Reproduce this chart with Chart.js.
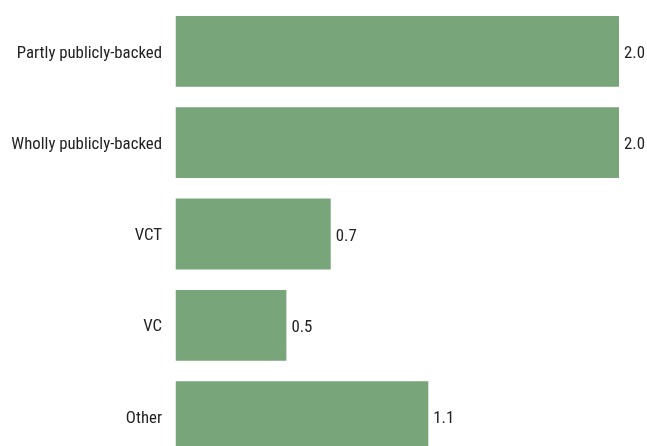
<!DOCTYPE html>
<html>
<head>
<meta charset="utf-8">
<script src="https://cdn.jsdelivr.net/npm/chart.js@4"></script>
<style>
  html, body { margin: 0; padding: 0; background: #fff; overflow: hidden; }
  #wrap { width: 647px; height: 446px; overflow: hidden; }
  canvas { display: block; }
</style>
</head>
<body>
<div id="wrap"><canvas id="chart" width="647" height="470"></canvas></div>
<script>
// Funding source categories and their values
const categories = ['Partly publicly-backed', 'Wholly publicly-backed', 'VCT', 'VC', 'Other'];
const values = [2.0, 2.0, 0.7, 0.5, 1.14];
const axisMin = 0;
const axisMax = 2.0;

const FONT = '"Liberation Sans Narrow", "Roboto Condensed", "Arial Narrow", "Liberation Sans", sans-serif';
const FONT_SIZE = 16.8;
const TEXT_COLOR = '#222222';
const BAR_COLOR = '#78a57a';

// Writes each bar's value just past its end
const valueLabels = {
  id: 'valueLabels',
  afterDatasetsDraw(chart) {
    const ctx = chart.ctx;
    const meta = chart.getDatasetMeta(0);
    ctx.save();
    ctx.font = FONT_SIZE + 'px ' + FONT;
    ctx.fillStyle = TEXT_COLOR;
    ctx.textAlign = 'left';
    ctx.textBaseline = 'middle';
    meta.data.forEach((bar, i) => {
      const v = chart.data.datasets[0].data[i];
      ctx.fillText(v.toFixed(1), bar.x + 5, bar.y + 2.5);
    });
    ctx.restore();
  }
};

new Chart(document.getElementById('chart'), {
  type: 'bar',
  data: {
    labels: categories,
    datasets: [{
      data: values,
      backgroundColor: BAR_COLOR,
      borderWidth: 0,
      categoryPercentage: 1,
      barPercentage: 0.775
    }]
  },
  options: {
    indexAxis: 'y',
    responsive: false,
    animation: false,
    layout: { padding: { top: 5.75, bottom: 7.75, left: 0, right: 28 } },
    plugins: {
      legend: { display: false },
      tooltip: { enabled: false }
    },
    scales: {
      x: {
        display: false,
        min: axisMin,
        max: axisMax
      },
      y: {
        grid: { display: false, drawTicks: false },
        border: { display: false },
        ticks: {
          color: TEXT_COLOR,
          font: { family: FONT, size: FONT_SIZE },
          padding: 13.5,
          labelOffset: 2
        },
        afterFit(scale) {
          scale.width = 175.5;
          scale.paddingTop = 0;
          scale.paddingBottom = 0;
        }
      }
    }
  },
  plugins: [valueLabels]
});
</script>
</body>
</html>
